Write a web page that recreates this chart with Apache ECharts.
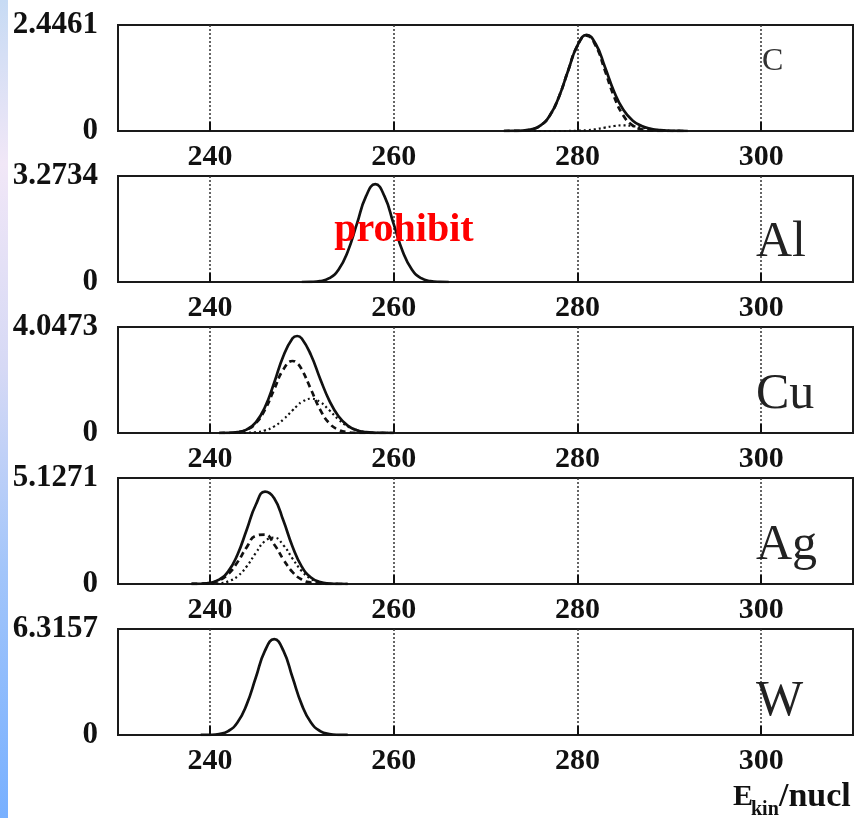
<!DOCTYPE html>
<html><head><meta charset="utf-8">
<script src="https://cdn.jsdelivr.net/npm/echarts@6/dist/echarts.min.js"></script>
<style>html,body{margin:0;padding:0;background:#fff}#c{width:856px;height:818px}</style>
</head><body><div id="c"></div>
<script>
const xTicks = [240, 260, 280, 300];
const elements = ['C', 'Al', 'Cu', 'Ag', 'W'];
const yMax = [2.4461, 3.2734, 4.0473, 5.1271, 6.3157];

const cX      = [272,273,274,275,276,277,278,279,280,281,282,283,284,285,286,287,288,289,290,291,292];
const cTotal  = [0,0.002,0.009,0.037,0.129,0.359,0.792,1.398,1.971,2.218,2.007,1.476,0.907,0.489,0.244,0.116,0.051,0.020,0.006,0.001,0];
const cDashed = [0,0.002,0.009,0.037,0.129,0.359,0.792,1.397,1.965,2.2,1.965,1.397,0.792,0.359,0.129,0.037,0.009,0.002,0,0,0];
const cDotted = [0,0,0,0,0,0,0,0.001,0.006,0.018,0.042,0.079,0.115,0.13,0.115,0.079,0.042,0.018,0.006,0.001,0];

const alX     = [250,251,252,253,254,255,256,257,258,259,260,261,262,263,264,265,266];
const alTotal = [0,0.005,0.028,0.117,0.376,0.936,1.794,2.652,3.02,2.652,1.794,0.936,0.376,0.117,0.028,0.005,0];

const cuX      = [241,242,243,244,245,246,247,248,249,249.5,250,251,252,253,254,255,256,257,258,259,260];
const cuTotal  = [0,0.006,0.032,0.129,0.404,0.992,1.919,2.944,3.617,3.704,3.609,2.978,2.075,1.239,0.638,0.282,0.105,0.032,0.008,0.002,0];
const cuDashed = [0,0.006,0.030,0.121,0.372,0.893,1.668,2.427,2.75,2.666,2.427,1.668,0.893,0.372,0.121,0.030,0.006,0,0,0,0];
const cuDotted = [0,0,0.002,0.008,0.032,0.099,0.251,0.517,0.867,1.038,1.182,1.31,1.182,0.867,0.517,0.251,0.099,0.032,0.008,0.002,0];

const agX      = [238,239,240,241,242,243,244,245,246,247,248,249,250,251,252,253,254,255];
const agTotal  = [0.002,0.012,0.055,0.207,0.609,1.418,2.616,3.834,4.469,4.149,3.067,1.804,0.843,0.312,0.092,0.021,0.003,0];
const agDashed = [0.002,0.011,0.048,0.173,0.483,1.048,1.772,2.333,2.392,1.910,1.188,0.575,0.217,0.064,0.015,0.003,0,0];
const agDotted = [0,0.001,0.007,0.034,0.126,0.370,0.844,1.501,2.077,2.239,1.879,1.229,0.626,0.248,0.077,0.018,0.003,0];

const wX     = [239,240,241,242,243,244,245,246,247,248,249,250,251,252,253,254,255];
const wTotal = [0.002,0.011,0.058,0.235,0.742,1.810,3.426,5.025,5.71,5.025,3.426,1.810,0.742,0.235,0.058,0.011,0.002];

const panels = [
  {x: cX,  lines: [['solid', cTotal], ['dashed', cDashed], ['dotted', cDotted]]},
  {x: alX, lines: [['solid', alTotal]]},
  {x: cuX, lines: [['solid', cuTotal], ['dashed', cuDashed], ['dotted', cuDotted]]},
  {x: agX, lines: [['solid', agTotal], ['dashed', agDashed], ['dotted', agDotted]]},
  {x: wX,  lines: [['solid', wTotal]]}
];

const tops = [25, 176, 327, 478, 629];
const FONT = 'Liberation Serif';
const grids = [], xAxes = [], yAxes = [], series = [];
const styles = {
  solid:  {width: 2.7, type: 'solid'},
  dashed: {width: 2.7, type: [6, 4]},
  dotted: {width: 2.2, type: [2, 3]}
};

panels.forEach((p, i) => {
  grids.push({left: 118, right: 3, top: tops[i], height: 106, show: true,
    borderColor: '#1a1a1a', borderWidth: 2, backgroundColor: '#fff'});
  xAxes.push({type: 'value', gridIndex: i, min: 230, max: 310,
    axisLine: {show: false},
    axisTick: {show: true, inside: true, length: 9, customValues: xTicks, lineStyle: {color: '#111', width: 2}},
    axisLabel: {customValues: xTicks, fontFamily: FONT, fontWeight: 'bold', fontSize: 30, color: '#111', margin: 11},
    splitLine: {show: true, lineStyle: {color: '#333', width: 1.5, type: [2, 2]}}
  });
  yAxes.push({type: 'value', gridIndex: i, min: 0, max: yMax[i],
    axisLine: {show: false}, axisTick: {show: false}, splitLine: {show: false},
    axisLabel: {customValues: [0, yMax[i]], fontFamily: FONT, fontWeight: 'bold', fontSize: 31, color: '#111', margin: 20,
      formatter: v => String(v)}
  });
  p.lines.forEach(([kind, vals]) => {
    series.push({type: 'line', xAxisIndex: i, yAxisIndex: i, showSymbol: false, smooth: true,
      silent: true, animation: false,
      lineStyle: Object.assign({color: '#111'}, styles[kind]),
      data: p.x.map((x, k) => [x, vals[k]])});
  });
});

const labelPos = [
  {y: 62, size: 32, color: '#333'},
  {y: 243, size: 50, color: '#222'},
  {y: 395, size: 50, color: '#222'},
  {y: 546, size: 50, color: '#222'},
  {y: 702, size: 50, color: '#222'}
];

const graphics = [
  {type: 'rect', left: 0, top: 0, shape: {width: 8, height: 818}, z: 0,
    style: {fill: new echarts.graphic.LinearGradient(0, 0, 0, 1, [
      {offset: 0, color: '#c7dbf4'}, {offset: 0.2, color: '#f1e7f7'}, {offset: 0.45, color: '#d6d9f5'},
      {offset: 0.7, color: '#a2c5fa'}, {offset: 1, color: '#78b0ff'}])}}
];
elements.forEach((e, i) => {
  graphics.push({type: 'text', x: i === 0 ? 762 : 756, y: labelPos[i].y, z: 10,
    style: {text: e, font: `${labelPos[i].size}px "${FONT}"`, fill: labelPos[i].color, textAlign: 'left', textVerticalAlign: 'middle'}});
});
graphics.push({type: 'text', x: 404, y: 231, z: 10,
  style: {text: 'prohibit', font: `bold 40px "${FONT}"`, fill: '#ff0000', textAlign: 'center', textVerticalAlign: 'middle'}});
graphics.push({type: 'text', x: 733, y: 797, z: 10,
  style: {text: 'E', font: `bold 30px "${FONT}"`, fill: '#111', textAlign: 'left', textVerticalAlign: 'middle'}});
graphics.push({type: 'text', x: 751, y: 810, z: 10,
  style: {text: 'kin', font: `bold 20px "${FONT}"`, fill: '#111', textAlign: 'left', textVerticalAlign: 'middle'}});
graphics.push({type: 'text', x: 779, y: 797, z: 10,
  style: {text: '/nucl', font: `bold 34px "${FONT}"`, fill: '#111', textAlign: 'left', textVerticalAlign: 'middle'}});

const chart = echarts.init(document.getElementById('c'), null, {renderer: 'canvas'});
chart.setOption({
  animation: false,
  backgroundColor: '#fff',
  grid: grids, xAxis: xAxes, yAxis: yAxes, series: series,
  graphic: graphics
});
</script>
</body></html>
